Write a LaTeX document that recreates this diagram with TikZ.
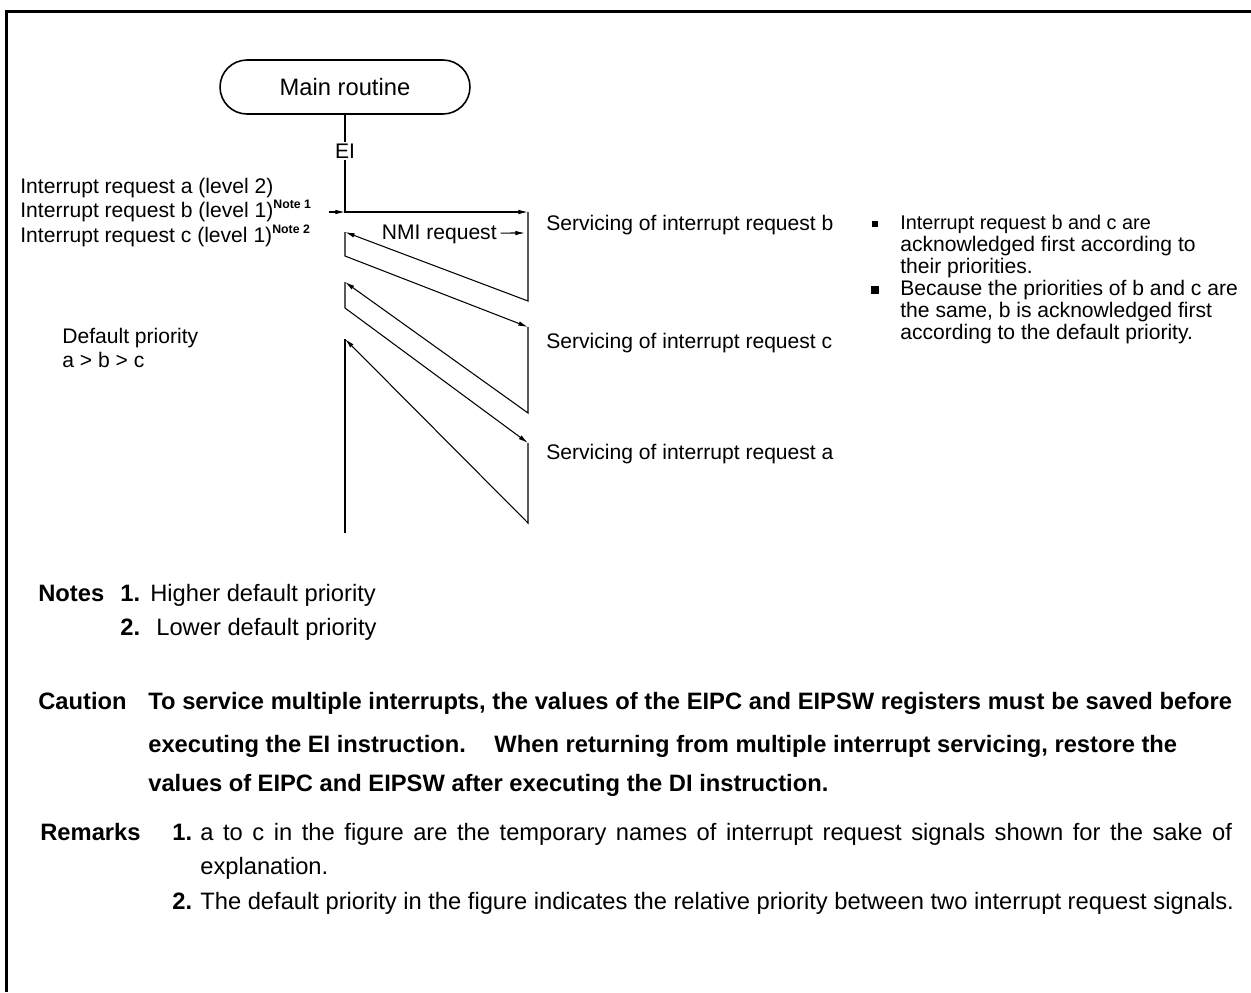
\documentclass[tikz,border=0pt]{standalone}
\usepackage{fontspec}
\setmainfont{Liberation Sans}
\usetikzlibrary{arrows.meta,positioning}
\newcommand{\notetagfont}{\fontsize{7}{8}\selectfont\bfseries}

\begin{document}
\begin{tikzpicture}[x=0.02cm, y=-0.02cm,
  term/.style={rectangle, rounded corners=0.54cm, draw, line width=0.9pt,
               minimum width=5.0cm, minimum height=1.08cm,
               font=\fontsize{13.5}{15}\selectfont},
  lbl/.style={anchor=base west, inner sep=0pt, font=\fontsize{12}{12.5}\selectfont},
  txt/.style={anchor=base west, inner sep=0pt, font=\fontsize{13.5}{16}\selectfont},
  boldtxt/.style={txt, font=\fontsize{13.5}{16}\selectfont\bfseries},
  flow/.style={line width=0.6pt},
  arr/.style={-{Latex[length=5.5pt,width=2.6pt]}, line width=0.6pt},
  bullet/.style={fill, inner sep=0pt, minimum size=#1}
]
\useasboundingbox (0,0) rectangle (1251,992);

% Frame
\draw[line width=1.8pt] (6.5,992) -- (6.5,11.5) -- (1251,11.5);

% Main routine
\node[term] (main) at (345,87) {Main routine};

% Zigzag points
\coordinate (l0) at (345,212);
\coordinate (r1t) at (528,212);
\coordinate (r1b) at (528,301);
\coordinate (l1t) at (345,232);
\coordinate (l1b) at (345,256);
\coordinate (r2t) at (528,327);
\coordinate (r2b) at (528,413);
\coordinate (l2t) at (345,282);
\coordinate (l2b) at (345,308);
\coordinate (r3t) at (528,443);
\coordinate (r3b) at (528,523);
\coordinate (l3t) at (345,339);
\coordinate (l3b) at (345,533);

\draw[arr] (main.south) -- node[pos=0.37, fill=white, inner sep=1pt,
  font=\fontsize{12}{14}\selectfont] (ei) {EI} (l0) -- (r1t);
\draw[arr] (r1t) -- (r1b) -- (l1t);
\draw[arr] (l1t) -- (l1b) -- (r2t);
\draw[arr] (r2t) -- (r2b) -- (l2t);
\draw[arr] (l2t) -- (l2b) -- (r3t);
\draw[arr] (r3t) -- (r3b) -- (l3t);
\draw[flow] (l3t) -- (l3b);

% Requests
\node[lbl] (reqa) at (20,193) {Interrupt request a (level 2)};
\node[lbl] (reqb) at (20,217) {Interrupt request b (level 1)\raisebox{5pt}{\notetagfont Note 1}};
\node[lbl] (reqc) at (20,242) {Interrupt request c (level 1)\raisebox{5pt}{\notetagfont Note 2}};
\coordinate (reqbtip) at (329,212);
\draw[arr] (reqbtip) -- (l0);

\node[lbl, anchor=base east] (nmi) at (497,239) {NMI request};
\coordinate (nmitip) at (525,233);
\draw[arr] ([xshift=2pt,yshift=3.4pt]nmi.base east) -- (nmitip);

% Servicing
\node[lbl] (servb) at (546,230) {Servicing of interrupt request b};
\node[lbl] (servc) at (546,348) {Servicing of interrupt request c};
\node[lbl] (serva) at (546,459) {Servicing of interrupt request a};

% Default priority
\node[lbl] (defp) at (62,343) {Default priority};
\node[lbl] (order) at (62,367) {a > b > c};

% Remarks on the right (base = last line)
\node[bullet=3.2pt] (bul1) at (875,224) {};
\node[lbl, align=left] (txt1) at (900,273)
  {{\fontsize{11.3}{12.5}\selectfont Interrupt request b and c are}\\
   acknowledged first according to\\
   their priorities.};
\node[bullet=4pt] (bul2) at (875,290) {};
\node[lbl, align=left] (txt2) at (900,339)
  {Because the priorities of b and c are\\
   the same, b is acknowledged first\\
   according to the default priority.};

% Notes
\node[boldtxt] (notes) at (38,601) {Notes};
\node[boldtxt] (n1) at (120,601) {1.};
\node[txt] (n1t) at (150,601) {Higher default priority};
\node[boldtxt] (n2) at (120,635) {2.};
\node[txt] (n2t) at (156,635) {Lower default priority};

% Caution
\node[boldtxt] (caut) at (38,709) {Caution};
\node[boldtxt] (c1) at (148,709) {\makebox[21.68cm][s]{To service multiple interrupts, the values of the EIPC and EIPSW registers must be saved before}};
\node[boldtxt] (c2) at (148,752) {executing the EI instruction.\hspace{1.2em}When returning from multiple interrupt servicing, restore the};
\node[boldtxt] (c3) at (148,791) {values of EIPC and EIPSW after executing the DI instruction.};

% Remarks
\node[boldtxt] (rem) at (40,840) {Remarks};
\node[boldtxt] (r1) at (172,840) {1.};
\node[txt] (r1t) at (200,840) {\makebox[20.64cm][s]{a to c in the figure are the temporary names of interrupt request signals shown for the sake of}};
\node[txt] (r1u) at (200,874) {explanation.};
\node[boldtxt] (r2) at (172,909) {2.};
\node[txt] (r2t) at (200,909) {The default priority in the figure indicates the relative priority between two interrupt request signals.};
\end{tikzpicture}
\end{document}
